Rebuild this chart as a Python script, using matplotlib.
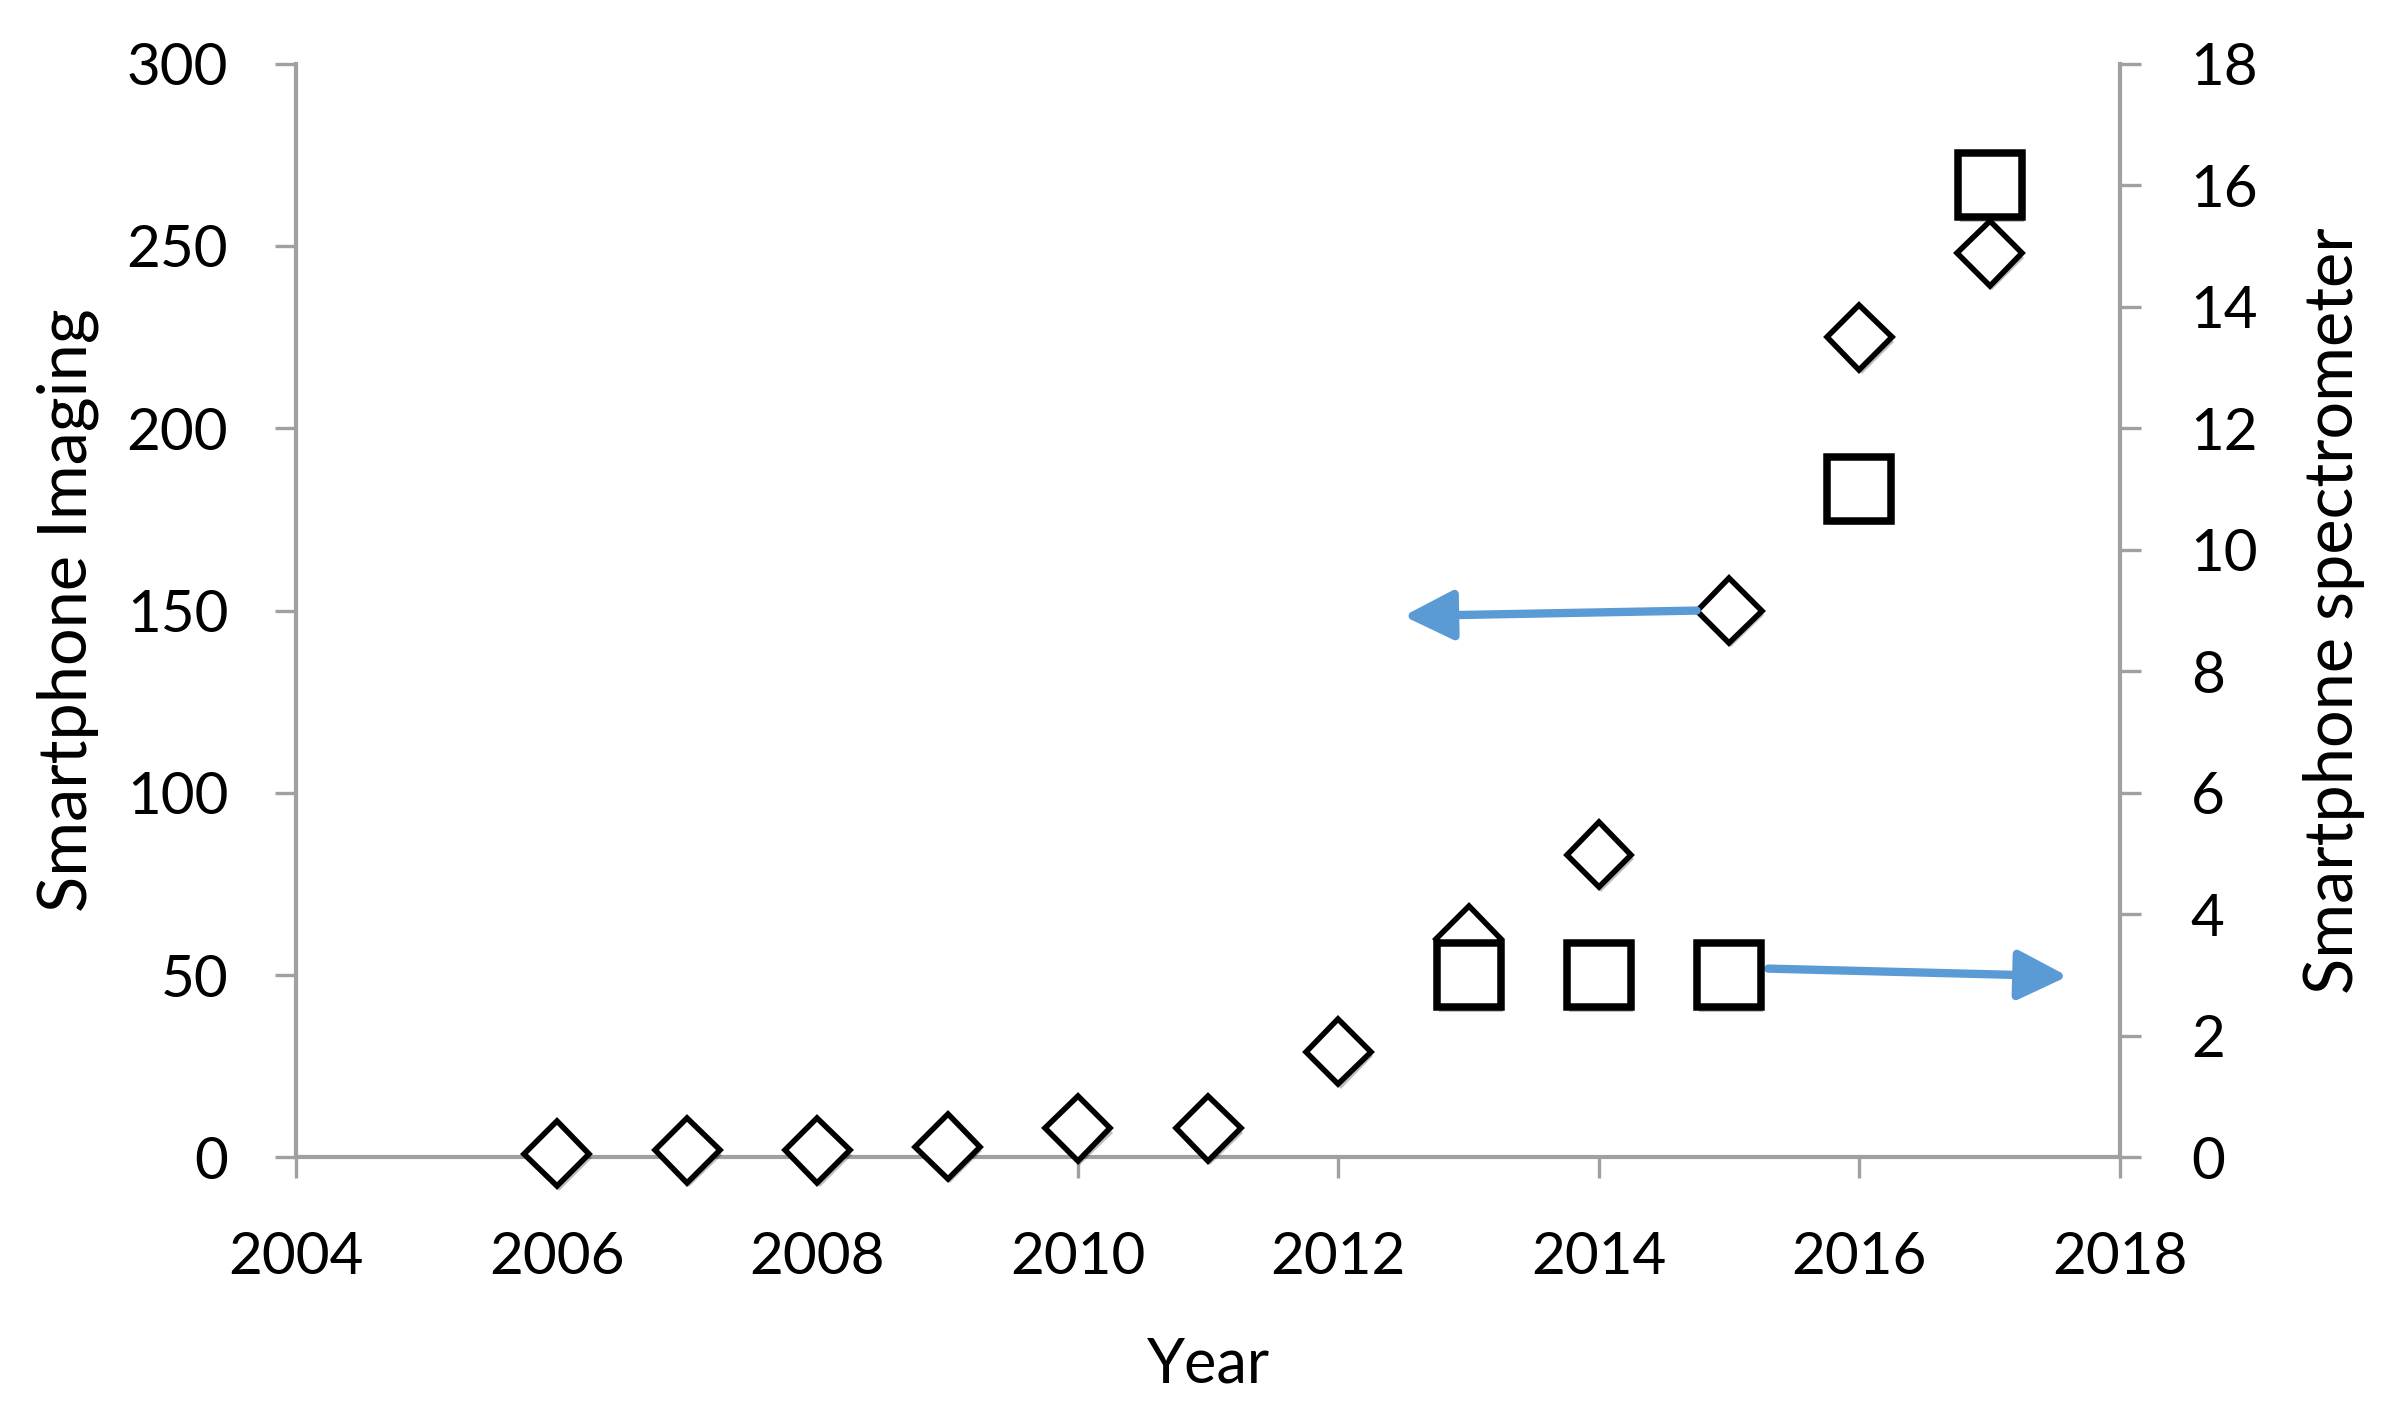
import numpy as np
import matplotlib.pyplot as plt
import matplotlib.patheffects as pe

# === Data ===
years_imaging = [2006, 2007, 2008, 2009, 2010, 2011, 2012, 2013, 2014, 2015, 2016, 2017]
imaging_counts = [1, 2, 2, 3, 8, 8, 29, 60, 83, 150, 225, 248]

years_spectro = [2013, 2014, 2015, 2016, 2017]
spectro_counts = [3, 3, 3, 11, 16]

x_ticks = [2004, 2006, 2008, 2010, 2012, 2014, 2016, 2018]
left_ticks = [0, 50, 100, 150, 200, 250, 300]
right_ticks = [0, 2, 4, 6, 8, 10, 12, 14, 16, 18]

axis_gray = "#A0A0A0"
arrow_blue = "#5B9BD5"
plt.rcParams["font.family"] = ["Lato", "DejaVu Sans"]

fig, ax = plt.subplots(figsize=(11.95, 7.075), dpi=200)
fig.subplots_adjust(left=0.124, right=0.887, top=0.955, bottom=0.182)
ax2 = ax.twinx()

shadow = [pe.SimplePatchShadow(offset=(0.8, -1.6), shadow_rgbFace="#000000", alpha=0.25), pe.Normal()]

# diamonds on the left axis
ax.plot(years_imaging, imaging_counts, linestyle="none", marker="D", markersize=16.5,
        markerfacecolor="white", markeredgecolor="black", markeredgewidth=2.0,
        path_effects=shadow, zorder=3, clip_on=False)

# squares on the right axis
ax2.plot(years_spectro, spectro_counts, linestyle="none", marker="s", markersize=23,
         markerfacecolor="white", markeredgecolor="black", markeredgewidth=2.7,
         path_effects=shadow, zorder=3, clip_on=False)

# arrows pointing to the matching axis
ax.annotate("", xy=(2012.5, 148.5), xytext=(2014.75, 150.0),
            arrowprops=dict(arrowstyle="-|>", color=arrow_blue, lw=3, mutation_scale=38, shrinkA=0, shrinkB=0))
ax.annotate("", xy=(2017.6, 49.7), xytext=(2015.3, 51.8),
            arrowprops=dict(arrowstyle="-|>", color=arrow_blue, lw=3, mutation_scale=38, shrinkA=0, shrinkB=0))

ax.set_xlim(2004, 2018)
ax.set_ylim(0, 300)
ax2.set_ylim(0, 18)
ax.set_xticks(x_ticks)
ax.set_yticks(left_ticks)
ax2.set_yticks(right_ticks)

for a in (ax, ax2):
    a.spines["top"].set_visible(False)
    a.set_facecolor("none")
ax.spines["right"].set_visible(False)
ax2.spines["left"].set_visible(False)
ax2.spines["bottom"].set_visible(False)
for s in (ax.spines["left"], ax.spines["bottom"], ax2.spines["right"]):
    s.set_color(axis_gray)
    s.set_linewidth(1.5)

ax.tick_params(axis="both", direction="out", length=7.5, width=1.2, color=axis_gray,
               labelsize=21, labelcolor="black")
ax.tick_params(axis="y", pad=17)
ax.tick_params(axis="x", pad=19)
ax2.tick_params(axis="y", direction="out", length=7.5, width=1.2, color=axis_gray,
                labelsize=21, labelcolor="black", pad=18)

ax.set_xlabel("Year", fontsize=22, labelpad=19)
ax.set_ylabel("Smartphone Imaging", fontsize=24, labelpad=10)
ax2.set_ylabel("Smartphone spectrometer", fontsize=24, labelpad=16)

fig.savefig("out.png", dpi=200)
